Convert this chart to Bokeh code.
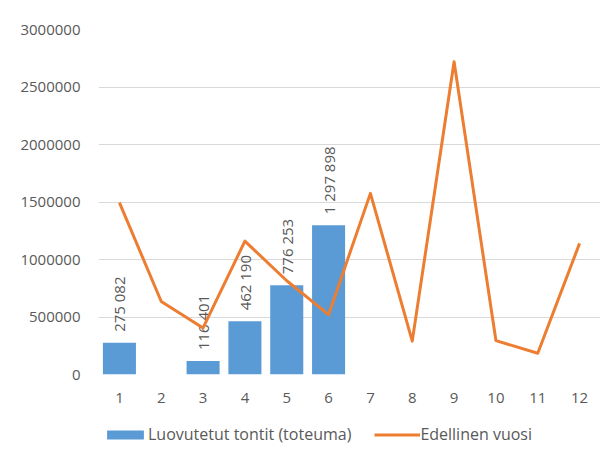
from bokeh.plotting import figure
from bokeh.layouts import column
from bokeh.models import ColumnDataSource, FactorRange, Range1d, Legend, LegendItem, FixedTicker, NumeralTickFormatter
from bokeh.core.properties import value
from bokeh.embed import file_html
from bokeh.resources import INLINE

months = [str(i) for i in range(1, 13)]
bar_months = ["1", "2", "3", "4", "5", "6"]
bar_values = [275082, 0, 116401, 462190, 776253, 1297898]
prev_year = [1495000, 635000, 405000, 1160000, 815000, 520000,
             1575000, 290000, 2720000, 295000, 185000, 1140000]
y_ticks = [0, 500000, 1000000, 1500000, 2000000, 2500000, 3000000]
bar_name = "Luovutetut tontit (toteuma)"
line_name = "Edellinen vuosi"

FONT = "Open Sans"
TXT = "#595959"
BLUE = "#5B9BD5"
ORANGE = "#ED7D31"

p = figure(x_range=FactorRange(*months), y_range=Range1d(0, 3000000),
           width=603, height=412, output_backend="svg", toolbar_location=None,
           min_border_left=98, min_border_right=3, min_border_top=29, min_border_bottom=38)
p.outline_line_color = None
p.background_fill_color = "white"
p.border_fill_color = "white"

bar_src = ColumnDataSource(dict(x=bar_months, top=bar_values))
p.vbar(x="x", top="top", width=0.79, source=bar_src,
       fill_color=BLUE, line_color=None)

lbl_x = [m for m, v in zip(bar_months, bar_values) if v > 0]
lbl_y = [v for v in bar_values if v > 0]
lbl_t = [f"{v:,}".replace(",", " ") for v in lbl_y]
p.text(x=lbl_x, y=lbl_y, text=lbl_t, angle=1.5708, text_align="left",
       text_baseline="middle", y_offset=-11, text_color=TXT,
       text_font=value(FONT), text_font_size="15px")

line_src = ColumnDataSource(dict(x=months, y=prev_year))
p.line(x="x", y="y", source=line_src, line_color=ORANGE, line_width=3,
       line_join="round")

p.yaxis.ticker = FixedTicker(ticks=y_ticks)
p.yaxis.formatter = NumeralTickFormatter(format="0")
for ax in (p.xaxis[0], p.yaxis[0]):
    ax.axis_line_color = None
    ax.major_tick_line_color = None
    ax.minor_tick_line_color = None
    ax.major_label_text_color = TXT
    ax.major_label_text_font = FONT
    ax.major_label_text_font_size = "15px"
p.yaxis.major_label_standoff = 12
p.xaxis.major_label_standoff = 12
p.xgrid.grid_line_color = None
p.ygrid.grid_line_color = "#D9D9D9"
p.ygrid.grid_line_width = 1

# legend strip below the chart (legend-only swatch renderers, drawn off-view)
lf = figure(width=603, height=45, x_range=Range1d(0, 1), y_range=Range1d(0, 1),
            output_backend="svg", toolbar_location=None,
            min_border_left=0, min_border_right=0, min_border_top=0, min_border_bottom=0)
lf.axis.visible = False
lf.grid.visible = False
lf.outline_line_color = None
lf.border_fill_color = "white"
lb = lf.vbar(x=[-5], top=[-5], bottom=[-6], width=0.5, fill_color=BLUE, line_color=None)
ll = lf.line(x=[-5, -4], y=[-5, -5], line_color=ORANGE, line_width=3)
legend = Legend(items=[LegendItem(label=bar_name, renderers=[lb]),
                       LegendItem(label=line_name, renderers=[ll])],
                orientation="horizontal", location=(4, 12),
                padding=0, margin=0, spacing=23, border_line_color=None,
                background_fill_alpha=0, glyph_width=46, glyph_height=11,
                label_standoff=0, label_text_color=TXT,
                label_text_font=FONT, label_text_font_size="16px")
lf.add_layout(legend, "center")

open("out.html", "w").write(file_html(column(p, lf, spacing=0), INLINE))
